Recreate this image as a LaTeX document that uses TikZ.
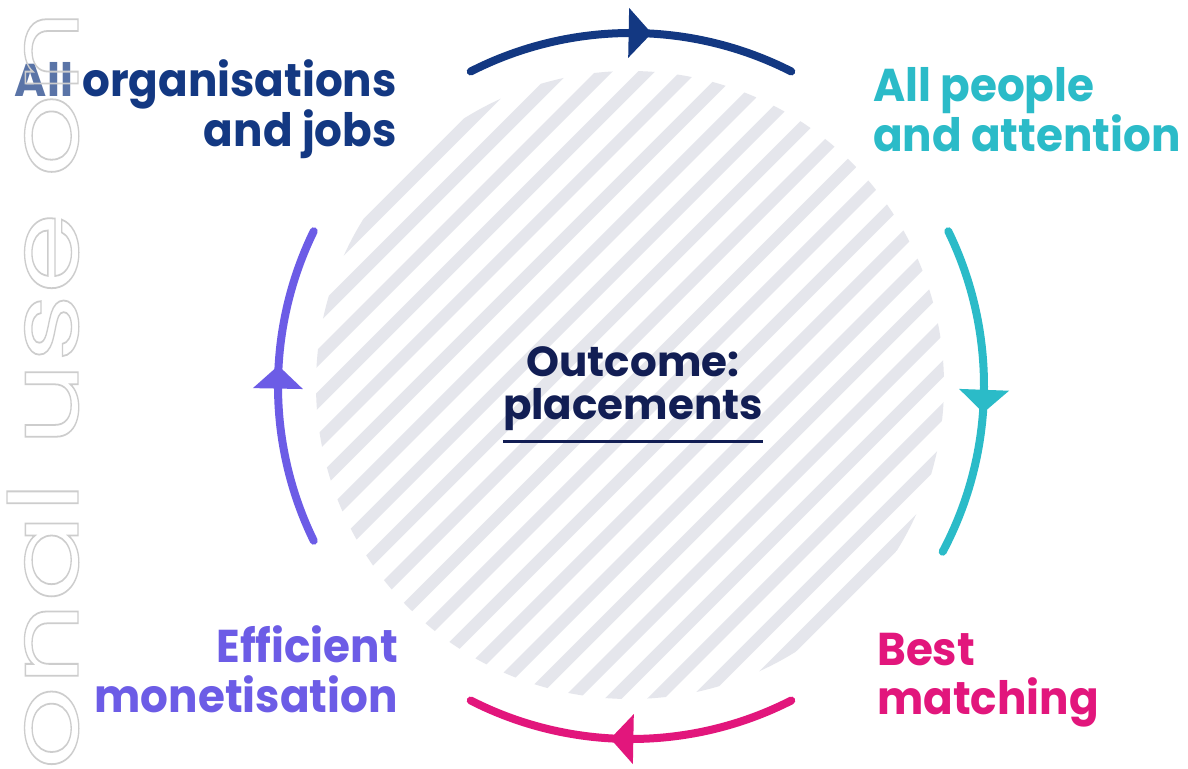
\documentclass[tikz,border=0pt]{standalone}
\usepackage{fontspec}
\usepackage{graphicx}
\setmainfont{Poppins}
\newfontfamily\lblfont{Poppins}[FakeStretch=0.95]
\newfontfamily\wmfont{Poppins}
\usetikzlibrary{decorations.markings,calc}
\definecolor{navy}{RGB}{19,56,130}
\definecolor{tealc}{RGB}{43,187,200}
\definecolor{magc}{RGB}{226,22,124}
\definecolor{purc}{RGB}{108,92,230}
\definecolor{ctrc}{RGB}{18,30,84}
\definecolor{stripec}{RGB}{229,230,236}
\definecolor{wmc}{RGB}{205,205,205}
\begin{document}
\begin{tikzpicture}[x=1pt,y=1pt,
  stripe/.style={stripec,line width=12pt},
  arcline/.style={line width=8pt,line cap=round},
  midarrow/.style={postaction={decorate},decoration={markings,
     mark=at position 0.52 with {\fill (-9pt,25pt) -- (14pt,0pt) -- (-9pt,-25pt) -- cycle;}}},
  lbl/.style={inner sep=0pt,font=\fontsize{46}{49}\selectfont\lblfont\bfseries},
  ctr/.style={inner sep=0pt,text=ctrc,align=center,font=\fontsize{42}{43}\selectfont\bfseries},
  wm/.style={inner sep=0pt,text=wmc,font=\fontsize{96}{96}\selectfont\wmfont}
]
\useasboundingbox (0,0) rectangle (1188,768);
\fill[white] (0,0) rectangle (1188,768);
\coordinate (h) at (630,383);
\coordinate (c) at (631,382);
% hatched disc
\begin{scope}
\clip (h) circle[radius=314];
\foreach \k in {-11,...,11} {
  \draw[stripe] ($(h)+(\k*21.21,-\k*21.21)+(-420,-420)$) -- ++(840,840);
}
\end{scope}
% arc end points
\coordinate (t1) at ($(c)+(117:353)$);
\coordinate (r1) at ($(c)+(26:353)$);
\coordinate (b1) at ($(c)+(-63:353)$);
\coordinate (l1) at ($(c)+(206:353)$);
% arcs (clockwise cycle)
\draw[arcline,color=navy,midarrow] (t1) arc[start angle=117,end angle=63,radius=353];
\draw[arcline,color=tealc,midarrow] (r1) arc[start angle=26,end angle=-28,radius=353];
\draw[arcline,color=magc,midarrow] (b1) arc[start angle=-63,end angle=-117,radius=353];
\draw[arcline,color=purc,midarrow] (l1) arc[start angle=206,end angle=154,radius=353];
% labels (anchor = baseline of last line)
\node[lbl,text=navy,align=right,anchor=base east] (org) at (397,621) {All organisations\\and jobs};
\node[lbl,text=tealc,align=left,anchor=base west] (ppl) at (873,616) {All people\\and attention};
\node[lbl,text=magc,align=left,anchor=base west] (best) at (877,53) {Best\\matching};
\node[lbl,text=purc,align=right,anchor=base east] (eff) at (398,56) {Efficient\\monetisation};
% centre
\node[ctr,anchor=base] (out) at (633,348) {Outcome:\\placements};
\draw[ctrc,line width=3pt] ([yshift=-10pt]out.south west) -- ([yshift=-10pt]out.south east);
% watermark strip on top
\fill[white,opacity=0.3] (0,0) rectangle (79,768);
\node[wm,rotate=90,anchor=base west] (wmark) at (78,-2)
  {\resizebox{760pt}{\height}{\special{pdf:code 1 Tr 1.3 w}onal use on\special{pdf:code 0 Tr}}};
\end{tikzpicture}
\end{document}
